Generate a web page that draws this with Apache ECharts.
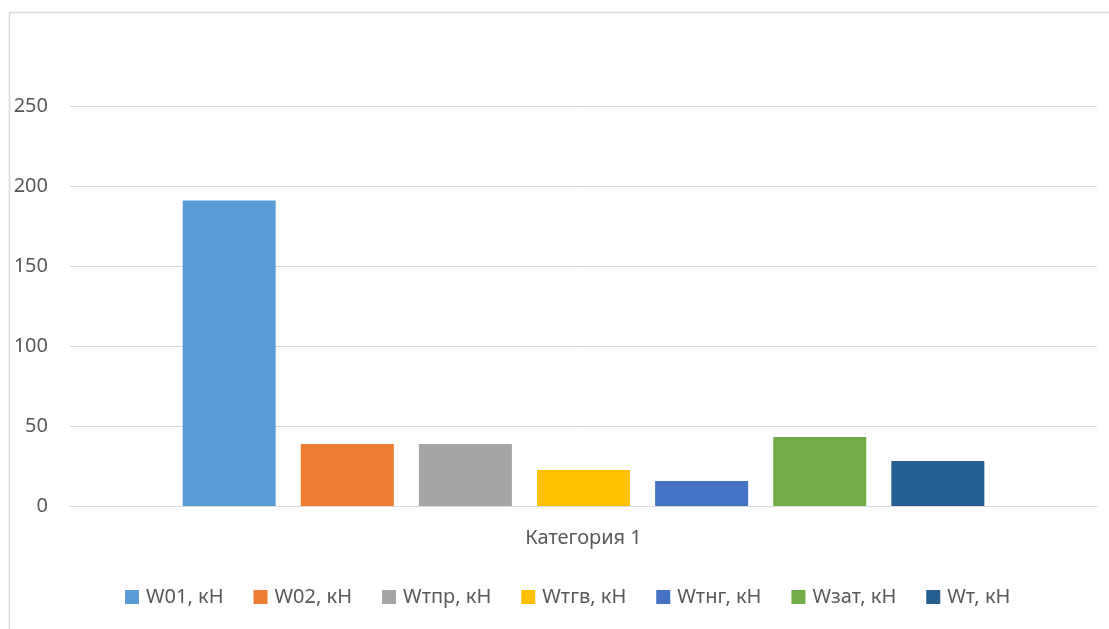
<!DOCTYPE html>
<html>
<head>
<meta charset="utf-8">
<script src="https://cdn.jsdelivr.net/npm/echarts@6/dist/echarts.min.js"></script>
<style>
  html, body { margin: 0; padding: 0; background: #fff; }
  #chart { width: 1109px; height: 629px; }
</style>
</head>
<body>
<div id="chart"></div>
<script>
// Loads acting on the element (kN), one bar per component
const categories = ['Категория 1'];
const seriesNames = ['W01, кН', 'W02, кН', 'Wтпр, кН', 'Wтгв, кН', 'Wтнг, кН', 'Wзат, кН', 'Wт, кН'];
const seriesValues = [191.0, 38.7, 38.7, 22.5, 15.6, 43.1, 28.1];
const seriesColors = ['#5B9BD5', '#ED7D31', '#A5A5A5', '#FFC000', '#4472C4', '#70AD47', '#255E91'];
const yTicks = [0, 50, 100, 150, 200, 250];

const FONT = '"Noto Sans", "Open Sans", sans-serif';
const TEXT = '#595959';

const chart = echarts.init(document.getElementById('chart'), null, { renderer: 'canvas' });

const series = seriesNames.map((name, i) => ({
  name,
  type: 'bar',
  data: [seriesValues[i]],
  barWidth: 93,
  barGap: '27%',
  itemStyle: { color: seriesColors[i] },
  emphasis: { disabled: true }
}));

chart.setOption({
  animation: false,
  backgroundColor: '#ffffff',
  graphic: [{
    type: 'rect',
    left: 7, top: 10,
    shape: { width: 1300, height: 800 },
    style: { fill: 'none', stroke: '#D9D9D9', lineWidth: 1.5 },
    silent: true,
    z: -1
  }],
  grid: { left: 70, right: 12, top: 106, bottom: 123, containLabel: false },
  legend: {
    data: seriesNames,
    left: 120,
    top: 582,
    icon: 'rect',
    itemWidth: 14,
    itemHeight: 14,
    itemGap: 30,
    textStyle: { fontFamily: FONT, fontSize: 20, color: TEXT, padding: [0, 0, 0, 2] }
  },
  xAxis: {
    type: 'category',
    data: categories,
    axisLine: { show: true, lineStyle: { color: '#D9D9D9', width: 1 } },
    axisTick: { show: false },
    axisLabel: { fontFamily: FONT, fontSize: 20, color: TEXT, margin: 22 }
  },
  yAxis: {
    type: 'value',
    min: yTicks[0],
    max: yTicks[yTicks.length - 1],
    interval: 50,
    axisLine: { show: false },
    axisTick: { show: false },
    splitLine: { lineStyle: { color: '#D9D9D9', width: 1 } },
    axisLabel: { fontFamily: FONT, fontSize: 20, color: TEXT, margin: 22 }
  },
  series
});
</script>
</body>
</html>
